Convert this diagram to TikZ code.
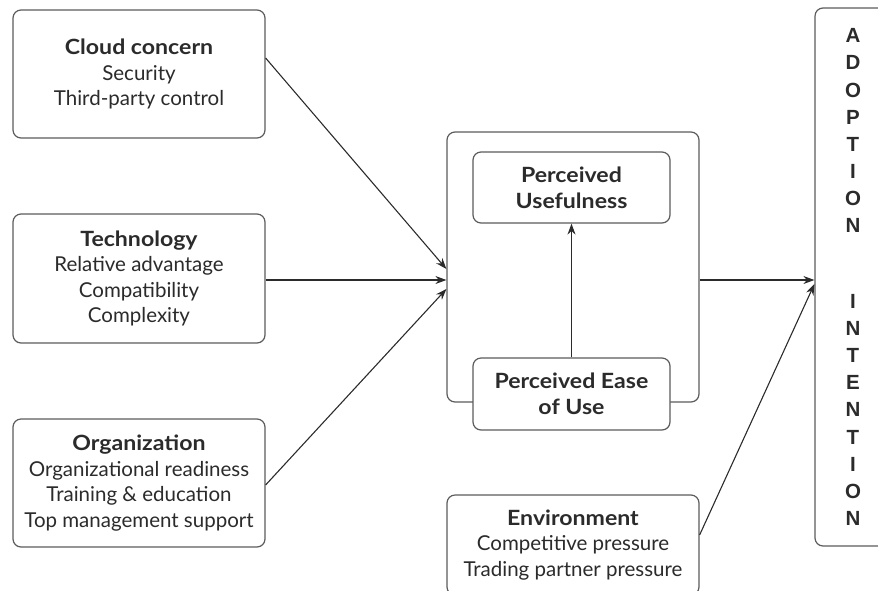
\documentclass[tikz,border=0pt]{standalone}
\usepackage{fontspec}
\setmainfont{Lato}[BoldFeatures={FakeStretch=1.1}]
\newfontfamily\capsfont{Liberation Sans}
\usetikzlibrary{arrows.meta,positioning}
\definecolor{edgegray}{HTML}{5C5C5C}
\definecolor{inkgray}{HTML}{2B2B2B}

\begin{document}
\begin{tikzpicture}[x=1pt,y=-1pt,
  box/.style={draw=edgegray, line width=1.2pt, rounded corners=8pt, fill=white,
    align=center, text=inkgray, inner sep=0pt, font=\fontsize{20.5}{25.5}\selectfont},
  head/.style={font=\bfseries\fontsize{21}{26}\selectfont},
  link/.style={draw=inkgray, line width=1.1pt, -{Stealth[length=11pt,width=8pt]}}]
  \path[use as bounding box, clip] (0,0) rectangle (878,590);

  % factors on the left
  \node[box, minimum width=252pt, minimum height=128pt] (cloud) at (139,74)
    {{\bfseries\fontsize{21}{25.5}\selectfont Cloud concern}\\Security\\Third-party control};
  \node[box, minimum width=252pt, minimum height=129pt] (tech) at (139,278.5)
    {{\bfseries\fontsize{21}{25.5}\selectfont Technology}\\Relative advantage\\Compatibility\\Complexity};
  \node[box, minimum width=252pt, minimum height=128pt] (org) at (139,483)
    {{\bfseries\fontsize{21}{25.5}\selectfont Organization}\\Organizational readiness\\Training \& education\\Top management support};

  % TAM block
  \node[box, minimum width=252pt, minimum height=270pt] (tam) at (573,267) {};
  \node[box, head, minimum width=197pt, minimum height=71pt] (pu) at (571.5,187.5)
    {Perceived\\Usefulness};
  \node[box, head, minimum width=197pt, minimum height=72pt] (peou) at (571.5,394)
    {Perceived Ease\\of Use};

  \node[box, minimum width=252pt, minimum height=100pt] (env) at (573,545)
    {{\bfseries\fontsize{21}{25.5}\selectfont Environment}\\Competitive pressure\\Trading partner pressure};

  % outcome
  \node[box, minimum width=76pt, minimum height=538pt, font=\capsfont\bfseries\fontsize{20.5}{27.1}\selectfont] (adopt) at (853,277)
    {A\\D\\O\\P\\T\\I\\O\\N\\[48.9pt]I\\N\\T\\E\\N\\T\\I\\O\\N};

  % arrows
  \draw[link] (cloud.east |- 0,58) -- (tam.west |- 0,269);
  \draw[link] (tech.east |- 0,280) -- (tam.west |- 0,280);
  \draw[link] (org.east |- 0,485) -- (tam.west |- 0,289);
  \draw[link] (peou) -- (pu);
  \draw[link] (tam.east |- 0,280) -- (adopt.west |- 0,280);
  \draw[link] (env.east |- 0,535) -- (adopt.west |- 0,284);
\end{tikzpicture}
\end{document}
